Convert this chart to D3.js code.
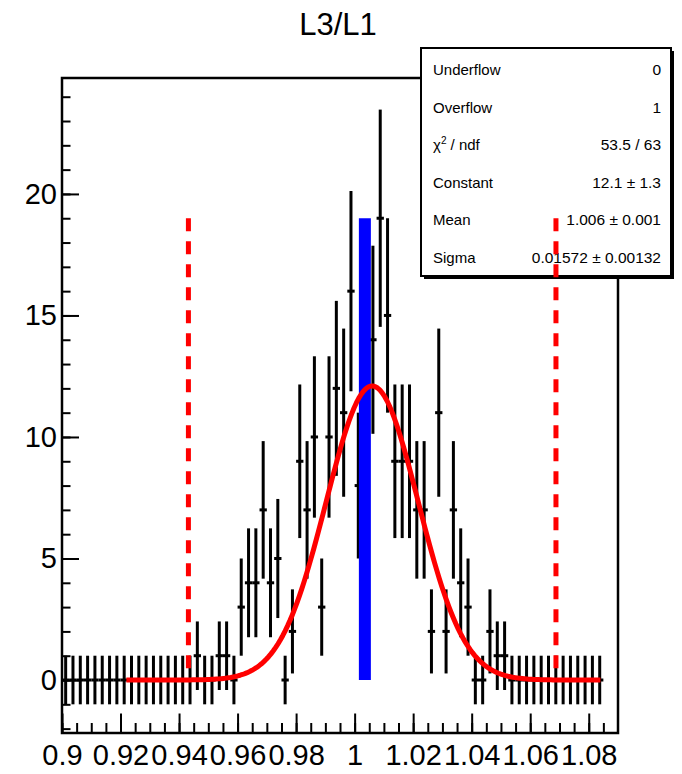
<!DOCTYPE html>
<html>
<head>
<meta charset="utf-8">
<title>L3/L1</title>
<script src="https://cdn.jsdelivr.net/npm/d3@7"></script>
<style>
  body { margin: 0; background: #fff; }
  svg { display: block; font-family: "Liberation Sans", Arial, sans-serif; }
</style>
</head>
<body>
<svg width="682" height="774"></svg>
<script>
// histogram L3/L1 : bins of 0.0025 starting at 0.9
var binLow = 0.9;
var binWidth = 0.0025;
var counts = [
  0, 0, 0, 0, 0, 0, 0, 0, 0, 0,
  0, 0, 0, 0, 0, 0, 0, 0, 1, 0,
  0, 1, 1, 0, 3, 4, 4, 7, 4, 5,
  0, 2, 9, 7, 10, 3, 10, 12, 11, 16,
  8, 12, 14, 19, 15, 9, 9, 9, 7, 7,
  2, 11, 2, 7, 4, 3, 0, 0, 2, 1,
  1, 0, 0, 0, 0, 0, 0, 0, 0, 0,
  0, 0, 0, 0
];
var errors = [
  1, 1, 1, 1, 1, 1, 1, 1, 1, 1,
  1, 1, 1, 1, 1, 1, 1, 1, 1.41, 1,
  1, 1.41, 1.41, 1, 2, 2.24, 2.24, 2.83, 2.24, 2.45,
  1, 1.73, 3.16, 2.83, 3.32, 2, 3.32, 3.6, 3.46, 4.12,
  3, 3.6, 3.87, 4.47, 4, 3.16, 3.16, 3.16, 2.83, 2.83,
  1.73, 3.46, 1.73, 2.83, 2.24, 2, 1, 1, 1.73, 1.41,
  1.41, 1, 1, 1, 1, 1, 1, 1, 1, 1,
  1, 1, 1, 1
];

var xTicks = [0.9, 0.92, 0.94, 0.96, 0.98, 1.0, 1.02, 1.04, 1.06, 1.08];
var xTickLabels = ["0.9", "0.92", "0.94", "0.96", "0.98", "1", "1.02", "1.04", "1.06", "1.08"];
var yTicks = [0, 5, 10, 15, 20];
var yTickLabels = ["0", "5", "10", "15", "20"];

// gaus fit
var fitConstant = 12.1, fitMean = 1.006, fitSigma = 0.01572;
var fitRange = [0.922, 1.084];

// markers: red dashed cuts and blue reference
var cutLines = [0.9432, 1.0688];
var cutHeight = 19;
var refLine = 1.0035;
var refHeight = 19;

var statNames = ["Underflow", "Overflow", "chi2", "Constant", "Mean", "Sigma"];
var statValues = ["0", "1", "53.5 / 63", "12.1 \u00b1 1.3", "1.006 \u00b1 0.001", "0.01572 \u00b1 0.00132"];

var svg = d3.select("svg");
var frameL = 62, frameR = 618, frameT = 78, frameB = 733;

var x = d3.scaleLinear().domain([0.9, 1.09]).range([frameL, frameR]);
var y = d3.scaleLinear().domain([-2.18, 24.77]).range([frameB, frameT]);

// title
svg.append("text")
  .attr("x", 338).attr("y", 35)
  .attr("text-anchor", "middle")
  .attr("font-size", 31)
  .text("L3/L1");

// frame
svg.append("rect")
  .attr("x", frameL).attr("y", frameT)
  .attr("width", frameR - frameL).attr("height", frameB - frameT)
  .attr("fill", "none").attr("stroke", "#000").attr("stroke-width", 2.5);

// y axis
var yMinor = d3.range(-2, 25, 1);
var yAxisMinor = svg.append("g")
  .attr("transform", "translate(" + frameL + ",0)")
  .call(d3.axisLeft(y).tickValues(yMinor).tickSize(-8.5).tickFormat(""));
var yAxis = svg.append("g")
  .attr("transform", "translate(" + frameL + ",0)")
  .call(d3.axisLeft(y).tickValues(yTicks).tickSize(-17).tickPadding(5)
    .tickFormat(function(d, i) { return yTickLabels[i]; }));

// x axis
var xMinor = d3.range(0, 38).map(function(i) { return 0.9 + i * 0.005; });
var xAxisMinor = svg.append("g")
  .attr("transform", "translate(0," + frameB + ")")
  .call(d3.axisBottom(x).tickValues(xMinor).tickSize(-10).tickFormat(""));
var xAxis = svg.append("g")
  .attr("transform", "translate(0," + frameB + ")")
  .call(d3.axisBottom(x).tickValues(xTicks).tickSize(-19.5).tickPadding(11)
    .tickFormat(function(d, i) { return xTickLabels[i]; }));

[yAxisMinor, yAxis, xAxisMinor, xAxis].forEach(function(g) {
  g.select(".domain").remove();
  g.selectAll("line").attr("stroke", "#000").attr("stroke-width", 2);
  g.selectAll("text").attr("font-size", 29).attr("fill", "#000")
    .attr("font-family", "'Liberation Sans', Arial, sans-serif");
});

// error bars
var bins = counts.map(function(c, i) {
  return { lo: binLow + i * binWidth, hi: binLow + (i + 1) * binWidth,
           mid: binLow + (i + 0.5) * binWidth, v: c, e: errors[i] };
});
var bars = svg.append("g").attr("stroke", "#000").attr("stroke-width", 3);
bars.selectAll(".ev").data(bins).enter().append("line")
  .attr("x1", function(d) { return x(d.mid); })
  .attr("x2", function(d) { return x(d.mid); })
  .attr("y1", function(d) { return y(d.v - d.e); })
  .attr("y2", function(d) { return y(d.v + d.e); });
bars.selectAll(".eh").data(bins).enter().append("line")
  .attr("x1", function(d) { return x(d.lo); })
  .attr("x2", function(d) { return x(d.hi); })
  .attr("y1", function(d) { return y(d.v); })
  .attr("y2", function(d) { return y(d.v); });

// blue reference bar
svg.append("line")
  .attr("x1", x(refLine)).attr("x2", x(refLine))
  .attr("y1", y(0)).attr("y2", y(refHeight))
  .attr("stroke", "#0000ff").attr("stroke-width", 12);

// fitted gaussian
var fitPts = d3.range(0, 201).map(function(k) {
  var xv = fitRange[0] + (fitRange[1] - fitRange[0]) * k / 200;
  var z = (xv - fitMean) / fitSigma;
  return [xv, fitConstant * Math.exp(-0.5 * z * z)];
});
svg.append("path")
  .datum(fitPts)
  .attr("d", d3.line().x(function(d) { return x(d[0]); }).y(function(d) { return y(d[1]); }))
  .attr("fill", "none").attr("stroke", "#ff0000").attr("stroke-width", 5)
  .attr("stroke-linejoin", "round");

// stats box
var box = { x: 421, y: 48, w: 250, h: 228 };
svg.append("rect")
  .attr("x", box.x + 3).attr("y", box.y + 3)
  .attr("width", box.w).attr("height", box.h).attr("fill", "#000");
svg.append("rect")
  .attr("x", box.x).attr("y", box.y)
  .attr("width", box.w).attr("height", box.h)
  .attr("fill", "#fff").attr("stroke", "#000").attr("stroke-width", 2);

var rowY = d3.scaleLinear().domain([0, 5]).range([75, 263]);
statNames.forEach(function(n, i) {
  var t = svg.append("text")
    .attr("x", 433).attr("y", rowY(i))
    .attr("font-size", 15);
  if (n === "chi2") {
    t.append("tspan").text("\u03c7");
    t.append("tspan").attr("font-size", 10).attr("dy", -6).text("2");
    t.append("tspan").attr("dy", 6).text(" / ndf");
  } else {
    t.text(n);
  }
  svg.append("text")
    .attr("x", 661).attr("y", rowY(i))
    .attr("text-anchor", "end")
    .attr("font-size", 15.5)
    .text(statValues[i]);
});

// red dashed cut lines (drawn over the box)
svg.selectAll(".cut").data(cutLines).enter().append("line")
  .attr("x1", function(d) { return x(d); })
  .attr("x2", function(d) { return x(d); })
  .attr("y1", y(cutHeight)).attr("y2", y(0))
  .attr("stroke", "#ff0000").attr("stroke-width", 5)
  .attr("stroke-dasharray", "13,10");
</script>
</body>
</html>
